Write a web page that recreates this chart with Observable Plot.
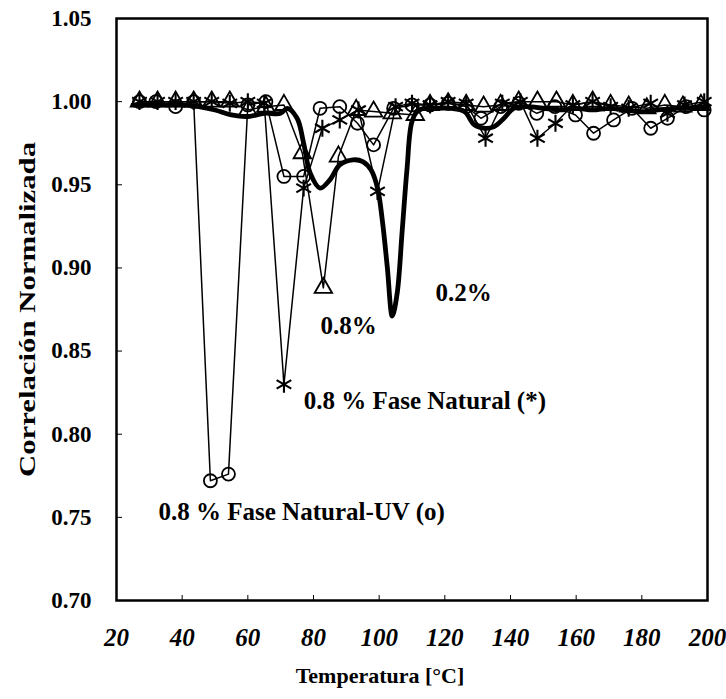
<!DOCTYPE html>
<html><head><meta charset="utf-8">
<script src="https://cdn.jsdelivr.net/npm/d3@7"></script>
<script src="https://cdn.jsdelivr.net/npm/@observablehq/plot@0.6"></script>
<style>body{margin:0;background:#fff}</style>
</head><body><div id="chart"></div>
<script>
const xTicks = [20, 40, 60, 80, 100, 120, 140, 160, 180, 200];
const yTicks = [0.70, 0.75, 0.80, 0.85, 0.90, 0.95, 1.00, 1.05];

// 0.8 % Fase Natural-UV (circles)
const tempUV = [27,32,38,43.5,48.6,54.1,60,65.5,71,77,82,88,93.4,98.3,104.4,110,115.5,121,126.5,131,137,142.5,148,153.5,159.8,165.3,171.4,177,182.7,187.8,193.5,199];
const corrUV = [1.000,1.000,0.997,1.000,0.772,0.776,0.998,1.000,0.955,0.955,0.996,0.997,0.987,0.974,0.996,0.998,0.998,0.999,0.997,0.990,0.997,0.999,0.993,0.997,0.992,0.981,0.989,0.996,0.984,0.990,0.997,0.995];

// 0.8 % Fase Natural (stars)
const tempNat = [27,32.5,38,43.5,49,54.5,60,65,71,77,82.7,88,93.7,99.5,105,110,115.5,121,126.5,132.4,137.5,143,148.2,153.7,159,165,170.5,176,182.7,187.8,193,199];
const corrNat = [1.000,1.000,1.000,1.000,1.000,0.999,1.000,0.999,0.830,0.948,0.984,0.989,0.995,0.946,0.997,0.999,0.998,1.000,0.999,0.978,0.999,1.000,0.978,0.987,0.998,1.000,0.997,0.996,0.999,0.993,0.998,1.000];

// 0.8 % (triangles)
const temp08 = [27,32.5,38,43.5,49,54.5,60,65.5,71,76.6,83,87.6,93,98.3,104,111,115.5,121,126.5,131.8,137,142.5,148.2,154,159,165,170.5,176,181.5,187,192.5,198];
const corr08 = [1.000,1.000,1.000,1.000,1.000,1.000,0.995,0.997,0.998,0.969,0.888,0.967,0.995,0.994,0.993,0.992,0.998,0.999,0.998,0.997,0.998,1.000,1.000,1.000,0.998,1.000,0.998,0.997,0.996,0.998,0.997,0.998];

// 0.2 % (thick smooth line)
const temp02 = [25,30,35,40,45,50,55,60,65,70,72,75,77,79,82,85,88,92,95,97.5,99.5,101,102.5,104,105.5,107,108.5,110,112,117,122,126,129,132,135,138,141,145,150,155,160,165,170,175,180,185,190,195,200];
const corr02 = [0.998,0.998,0.998,0.998,0.997,0.995,0.992,0.991,0.993,0.993,0.996,0.990,0.975,0.957,0.948,0.953,0.962,0.965,0.964,0.959,0.948,0.928,0.900,0.871,0.885,0.922,0.960,0.988,0.995,0.996,0.996,0.994,0.986,0.984,0.985,0.990,0.996,0.997,0.996,0.995,0.996,0.995,0.996,0.995,0.994,0.995,0.996,0.996,0.997];

const annoText = ["0.8%", "0.2%", "0.8 % Fase Natural (*)", "0.8 % Fase Natural-UV (o)"];
const annoT = [90.7, 125.7, 77, 32.8];
const annoV = [0.865, 0.885, 0.820, 0.753];
const annoAnchor = ["middle", "middle", "start", "start"];

const xTitle = "Temperatura [°C]";
const yTitle = "Correlación Normalizada";

const rows = (t, v) => t.map((x, i) => ({t: x, v: v[i]}));
const dUV = rows(tempUV, corrUV), dNat = rows(tempNat, corrNat), d08 = rows(temp08, corr08), d02 = rows(temp02, corr02);
const anno = annoText.map((s, i) => ({s, t: annoT[i], v: annoV[i], a: annoAnchor[i]}));

const font = "'Liberation Serif', 'Times New Roman', serif";
const chart = Plot.plot({
  width: 726, height: 699,
  marginTop: 18, marginBottom: 99, marginLeft: 116, marginRight: 19,
  style: {fontFamily: font, fontWeight: "bold", background: "#fff", color: "#000"},
  x: {domain: [20, 200]},
  y: {domain: [0.70, 1.05]},
  marks: [
    Plot.axisY(yTicks, {tickSize: 0, tickPadding: 25, tickFormat: d3.format(".2f"), fontSize: 23, fontWeight: "bold", label: null}),
    Plot.axisY(yTicks, {tickSize: -6, tickFormat: () => "", label: null}),
    Plot.axisX(xTicks, {tickSize: -5, tickFormat: () => "", label: null}),
    Plot.axisX(xTicks, {tickSize: 0, tickPadding: 28, fontSize: 25, fontStyle: "italic", fontWeight: "bold", label: null}),
    Plot.line(d02, {x: "t", y: "v", curve: "catmull-rom", stroke: "black", strokeWidth: 4.8}),
    Plot.line(dUV, {x: "t", y: "v", stroke: "black", strokeWidth: 1.5}),
    Plot.line(dNat, {x: "t", y: "v", stroke: "black", strokeWidth: 1.5}),
    Plot.line(d08, {x: "t", y: "v", stroke: "black", strokeWidth: 1.5}),
    Plot.dot(dUV, {x: "t", y: "v", symbol: "circle", r: 6.5, stroke: "black", fill: "none", strokeWidth: 1.8}),
    Plot.dot(d08, {x: "t", y: "v", symbol: "triangle", r: 6.5, stroke: "black", fill: "none", strokeWidth: 1.8}),
    Plot.dot(dNat, {x: "t", y: "v", symbol: "asterisk", r: 8, stroke: "black", fill: "none", strokeWidth: 2.1}),
    Plot.text(anno.filter(d => d.a === "middle"), {x: "t", y: "v", text: "s", textAnchor: "middle", fontSize: 25, fontWeight: "bold", fill: "black"}),
    Plot.text(anno.filter(d => d.a === "start"), {x: "t", y: "v", text: "s", textAnchor: "start", fontSize: 25, fontWeight: "bold", fill: "black"}),
    Plot.text([xTitle], {frameAnchor: "bottom", dx: -32, dy: 82, fontSize: 22, fontWeight: "bold", fill: "black"}),
    Plot.text([yTitle], {frameAnchor: "left", textAnchor: "middle", dx: -89, rotate: -90, fontSize: 23, fontWeight: "bold", fill: "black"}),
    Plot.frame({stroke: "black", strokeWidth: 2.5})
  ]
});
chart.querySelectorAll("text").forEach(t => {
  if (t.textContent === yTitle) {
    t.setAttribute("textLength", 335);
    t.setAttribute("lengthAdjust", "spacingAndGlyphs");
  }
});
document.getElementById("chart").append(chart);
</script>
</body></html>
